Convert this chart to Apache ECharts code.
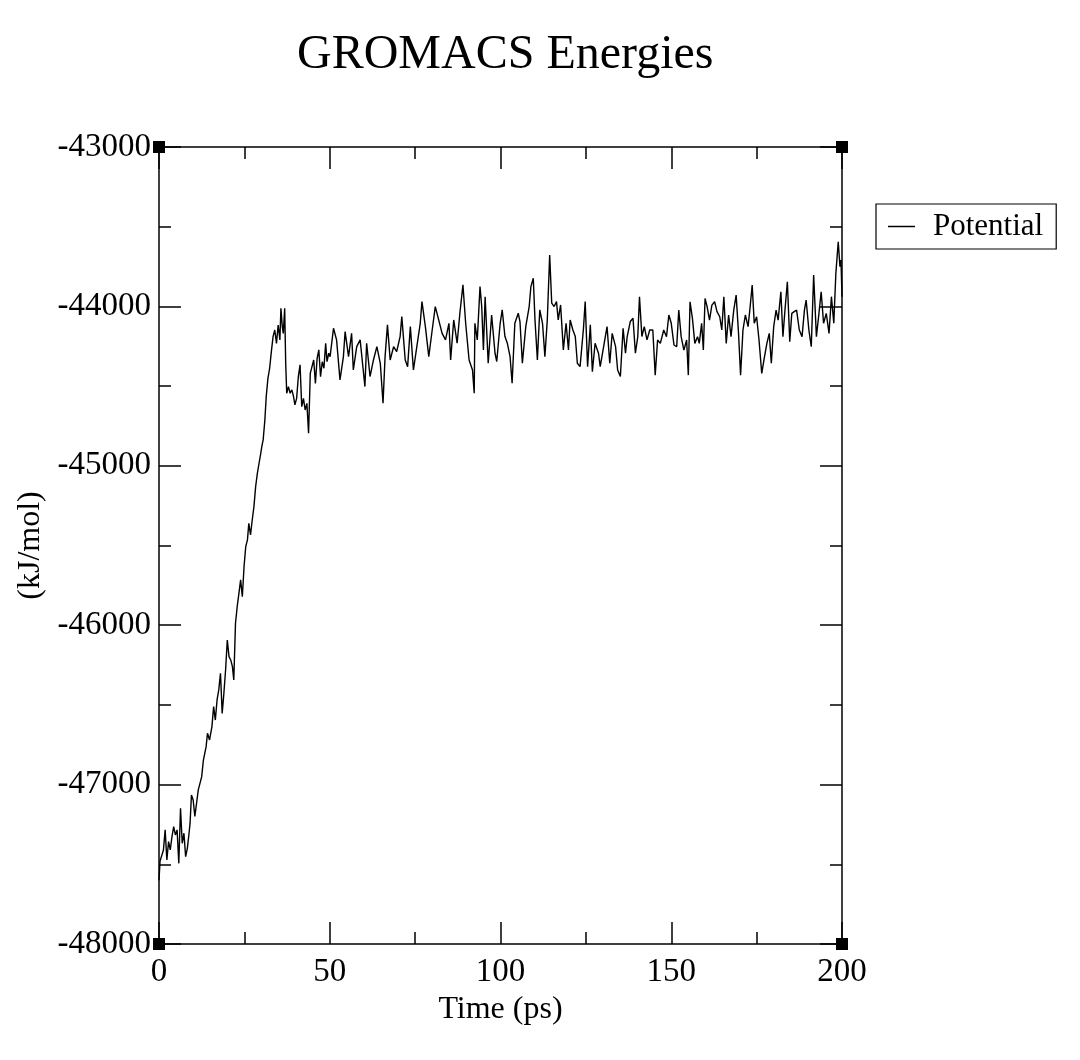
<!DOCTYPE html>
<html lang="en">

<head>
    <meta charset="UTF-8">
    <title>GROMACS Energies</title>
    <script src="https://cdn.jsdelivr.net/npm/echarts@6/dist/echarts.min.js"></script>
    <style>
        body,
        html {
            padding: 0;
            margin: 0;
            background: #fff;
        }

        #chart-panel {
            height: 1060px;
            width: 1080px;
        }
    </style>
</head>

<body>
    <div id="chart-panel"></div>
    <script>
        // time (ps)
        var time = [
            0.0, 0.3, 0.8, 1.3, 1.8, 2.3, 2.8, 3.3, 3.8, 4.3, 4.8, 5.3, 5.8, 6.3, 6.8, 7.3, 7.8, 8.3, 8.8, 9.1,
            9.5, 10.0, 10.5, 11.0, 11.5, 12.0, 12.5, 13.0, 13.8, 14.2, 14.8, 15.5, 16.0, 16.5, 17.0, 17.5, 18.0, 18.5, 19.0, 19.5,
            20.0, 20.5, 21.0, 21.5, 21.9, 22.4, 22.9, 23.4, 23.9, 24.4, 24.9, 25.4, 25.9, 26.3, 26.8, 27.3, 27.8, 28.3, 28.8, 29.3,
            29.8, 30.1, 30.5, 31.0, 31.4, 31.9, 32.4, 32.9, 33.4, 33.9, 34.4, 34.9, 35.4, 35.7, 36.1, 36.4, 36.8, 37.1, 37.4, 37.9,
            38.4, 38.9, 39.4, 39.8, 40.3, 40.8, 41.3, 41.8, 42.3, 42.8, 43.3, 43.8, 44.3, 44.8, 45.3, 45.8, 46.3, 46.8, 47.3, 47.8,
            48.3, 48.8, 49.2, 49.7, 50.1, 51.1, 52.0, 53.0, 54.0, 54.5, 55.5, 56.4, 56.9, 57.9, 58.9, 60.3, 60.8, 61.8, 62.8, 63.8,
            64.8, 65.6, 66.2, 66.9, 67.7, 68.7, 69.6, 70.6, 71.1, 72.1, 72.8, 73.6, 74.5, 75.5, 76.5, 77.0, 78.0, 79.0, 80.0, 80.9,
            81.9, 82.9, 83.9, 84.9, 85.4, 86.3, 87.3, 88.1, 89.0, 89.8, 90.8, 91.8, 92.3, 92.5, 93.2, 94.0, 94.5, 95.0, 95.5, 96.4,
            97.4, 98.4, 98.9, 99.9, 100.5, 101.3, 102.0, 102.8, 103.4, 104.2, 105.2, 105.7, 106.4, 107.4, 108.4, 108.9, 109.6, 110.1, 110.8, 111.5,
            112.3, 113.0, 113.7, 114.4, 115.0, 115.7, 116.4, 116.9, 117.6, 118.4, 119.2, 119.9, 120.4, 121.2, 121.9, 122.5, 123.3, 124.3, 124.8, 125.5,
            126.3, 126.9, 127.7, 128.7, 129.2, 130.2, 131.2, 132.0, 132.7, 133.7, 134.3, 135.1, 135.9, 136.6, 137.1, 138.0, 138.8, 139.5, 140.2, 140.7,
            141.4, 142.1, 142.9, 143.7, 144.6, 145.3, 146.0, 146.8, 147.8, 148.6, 149.3, 150.0, 150.8, 151.6, 152.2, 152.9, 153.7, 154.5, 155.0, 155.5,
            156.2, 156.9, 157.7, 158.2, 158.9, 159.4, 159.9, 160.5, 161.2, 161.9, 162.7, 163.4, 164.2, 164.8, 165.4, 166.1, 166.8, 167.5, 168.3, 169.0,
            169.7, 170.3, 171.0, 171.7, 172.5, 173.1, 173.7, 174.3, 175.0, 175.7, 176.5, 177.3, 178.0, 178.7, 179.3, 180.0, 180.7, 181.3, 182.1, 182.7,
            183.3, 184.0, 184.7, 185.3, 186.0, 186.7, 187.5, 188.3, 189.0, 189.5, 190.3, 191.0, 191.7, 192.5, 193.2, 193.9, 194.6, 195.4, 196.2, 196.9,
            197.6, 198.2, 198.9, 199.4, 199.7, 200.0
        ];

        // Potential (kJ/mol), same order as time
        var potential = [
            -47600, -47480, -47473, -47410, -47284, -47473, -47358, -47410, -47326, -47263, -47316, -47284, -47494, -47148, -47368, -47305, -47452, -47400, -47305, -47242,
            -47065, -47096, -47200, -47117, -47033, -46992, -46950, -46846, -46762, -46678, -46720, -46636, -46511, -46595, -46469, -46406, -46302, -46553, -46427, -46281,
            -46093, -46197, -46218, -46260, -46344, -45988, -45884, -45800, -45716, -45821, -45633, -45507, -45465, -45361, -45434, -45340, -45256, -45131, -45047, -44984,
            -44922, -44880, -44838, -44713, -44566, -44451, -44388, -44284, -44190, -44148, -44232, -44117, -44211, -44012, -44127, -44169, -44012, -44357, -44545, -44503,
            -44545, -44524, -44566, -44618, -44577, -44441, -44367, -44629, -44577, -44650, -44608, -44796, -44420, -44378, -44336, -44483, -44326, -44273, -44441, -44347,
            -44388, -44232, -44347, -44294, -44315, -44137, -44210, -44461, -44315, -44158, -44315, -44169, -44399, -44252, -44210, -44503, -44231, -44440, -44336, -44252,
            -44357, -44608, -44315, -44116, -44336, -44252, -44284, -44190, -44064, -44336, -44378, -44127, -44399, -44252, -44106, -43970, -44127, -44315, -44148, -44001,
            -44085, -44169, -44210, -44106, -44336, -44085, -44231, -44043, -43865, -44106, -44336, -44399, -44545, -44106, -44210, -43876, -44001, -44273, -43939, -44357,
            -44054, -44294, -44346, -44106, -44022, -44189, -44231, -44315, -44482, -44106, -44043, -44095, -44357, -44127, -44001, -43876, -43823, -44085, -44336, -44022,
            -44106, -44315, -44085, -43677, -43980, -44001, -43970, -44085, -43991, -44273, -44106, -44273, -44085, -44148, -44189, -44357, -44378, -44137, -43970, -44378,
            -44116, -44409, -44231, -44294, -44378, -44252, -44127, -44357, -44169, -44252, -44399, -44440, -44137, -44294, -44189, -44095, -44074, -44294, -44189, -43939,
            -44189, -44127, -44210, -44148, -44148, -44431, -44211, -44232, -44148, -44190, -44054, -44106, -44242, -44253, -44023, -44190, -44274, -44211, -44431, -43971,
            -44075, -44232, -44190, -44232, -44106, -44274, -43950, -44002, -44086, -43992, -43971, -44033, -44065, -44148, -43939, -44232, -44054, -44190, -44023, -43929,
            -44169, -44431, -44148, -44054, -44127, -44002, -43866, -44106, -44065, -44211, -44420, -44316, -44232, -44169, -44357, -44127, -44023, -44086, -43908, -44190,
            -44023, -43845, -44222, -44044, -44033, -44023, -44148, -44190, -44023, -43960, -44148, -44253, -43803, -44190, -44054, -43908, -44106, -44044, -44169, -43939,
            -44106, -43793, -43594, -43751, -43709, -43939
        ];

        var seriesName = 'Potential';
        var xMin = 0, xMax = 200, xStep = 50;
        var yMin = -48000, yMax = -43000, yStep = 1000;

        var font = 'Liberation Serif';

        function makeAxis(pos, isX, showLabel) {
            return {
                type: 'value',
                position: pos,
                min: isX ? xMin : yMin,
                max: isX ? xMax : yMax,
                interval: isX ? xStep : yStep,
                name: showLabel ? (isX ? 'Time (ps)' : '(kJ/mol)') : '',
                nameLocation: 'middle',
                nameGap: isX ? 40 : 112,
                nameTextStyle: { fontFamily: font, fontSize: 32, color: '#000' },
                axisLine: { show: true, onZero: false, lineStyle: { color: '#000', width: 1.5 } },
                axisTick: { show: true, inside: true, length: 22, lineStyle: { color: '#000', width: 1.5 } },
                minorTick: { show: true, splitNumber: 2, length: 12, lineStyle: { color: '#000', width: 1.5 } },
                axisLabel: {
                    show: showLabel,
                    margin: isX ? 12 : 8,
                    fontFamily: font,
                    fontSize: 33,
                    color: '#000',
                    formatter: function (v) { return String(v); }
                },
                splitLine: { show: false },
                minorSplitLine: { show: false }
            };
        }

        var option = {
            backgroundColor: '#fff',
            animation: false,
            title: {
                text: 'GROMACS Energies',
                left: 292,
                top: 26,
                textStyle: { fontFamily: font, fontSize: 48, fontWeight: 'normal', color: '#000' }
            },
            legend: {
                data: [seriesName],
                left: 876,
                top: 204,
                orient: 'vertical',
                padding: [7, 13, 7, 12],
                borderColor: '#000',
                borderWidth: 1.2,
                icon: 'rect',
                itemWidth: 27,
                itemHeight: 1.5,
                textStyle: { fontFamily: font, fontSize: 31, color: '#000', padding: [0, 0, 0, 13] }
            },
            grid: { left: 159, top: 147, width: 683, height: 797, containLabel: false },
            xAxis: [makeAxis('bottom', true, true), makeAxis('top', true, false)],
            yAxis: [makeAxis('left', false, true), makeAxis('right', false, false)],
            series: [
                {
                    name: seriesName,
                    type: 'line',
                    data: time.map(function (t, i) { return [t, potential[i]]; }),
                    symbol: 'none',
                    lineStyle: { color: '#000', width: 1.4 },
                    itemStyle: { color: '#000' }
                },
                {
                    // corner handles of the frame
                    type: 'scatter',
                    data: [[xMin, yMax], [xMax, yMax], [xMin, yMin], [xMax, yMin]],
                    symbol: 'rect',
                    symbolSize: 12,
                    itemStyle: { color: '#000', opacity: 1 },
                    clip: false,
                    silent: true,
                    z: 5
                }
            ]
        };

        var chartVM = echarts.init(document.getElementById('chart-panel'));
        chartVM.setOption(option);
    </script>
</body>

</html>
